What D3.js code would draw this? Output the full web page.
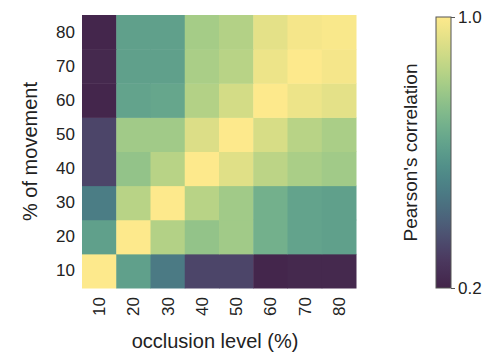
<!DOCTYPE html>
<html>
<head>
<meta charset="utf-8">
<script src="https://cdn.jsdelivr.net/npm/d3@7"></script>
<style>
  html, body { margin: 0; padding: 0; background: #fff; }
  svg { display: block; font-family: "Liberation Sans", Arial, sans-serif; }
</style>
</head>
<body>
<svg id="chart" width="484" height="357"></svg>
<script>
// Occlusion levels (columns) and movement percentages (rows)
const occlusion = ["10", "20", "30", "40", "50", "60", "70", "80"];
const movement  = ["10", "20", "30", "40", "50", "60", "70", "80"];

// Pearson's correlation, one row per movement level (10 → 80)
const corrM10 = [1.00, 0.62, 0.48, 0.32, 0.32, 0.21, 0.22, 0.22];
const corrM20 = [0.62, 1.00, 0.83, 0.76, 0.79, 0.68, 0.63, 0.62];
const corrM30 = [0.49, 0.84, 1.00, 0.84, 0.79, 0.68, 0.63, 0.62];
const corrM40 = [0.32, 0.76, 0.84, 1.00, 0.93, 0.85, 0.81, 0.79];
const corrM50 = [0.32, 0.79, 0.79, 0.92, 1.00, 0.91, 0.84, 0.81];
const corrM60 = [0.21, 0.63, 0.64, 0.83, 0.90, 1.00, 0.96, 0.94];
const corrM70 = [0.22, 0.62, 0.62, 0.81, 0.84, 0.96, 1.00, 0.98];
const corrM80 = [0.21, 0.62, 0.62, 0.80, 0.83, 0.94, 0.98, 0.99];
const corrRows = [corrM10, corrM20, corrM30, corrM40, corrM50, corrM60, corrM70, corrM80];

const colorDomain = [0.2, 1.0];
const colorTicks = [0.2, 1.0];

// Soft viridis-like ramp
const ramp = d3.interpolateRgbBasis([
  "rgb(67,36,73)", "rgb(78,60,100)", "rgb(76,98,124)", "rgb(72,128,134)",
  "rgb(88,155,140)", "rgb(120,182,140)", "rgb(165,205,135)",
  "rgb(212,220,132)", "rgb(253,233,140)"
]);
const color = d3.scaleSequential(ramp).domain(colorDomain);

const svg = d3.select("#chart");
const plot = { left: 82, top: 15, right: 356, bottom: 288 };

const x = d3.scaleBand().domain(occlusion).range([plot.left, plot.right]);
const y = d3.scaleBand().domain(movement).range([plot.bottom, plot.top]);

const cells = [];
corrRows.forEach((row, i) => row.forEach((v, j) => cells.push({ m: movement[i], o: occlusion[j], v })));

svg.append("g").selectAll("rect").data(cells).join("rect")
  .attr("x", d => x(d.o))
  .attr("y", d => y(d.m))
  .attr("width", x.bandwidth() + 0.5)
  .attr("height", y.bandwidth() + 0.5)
  .attr("fill", d => color(d.v));

// Axes (tick labels only)
const xAxis = svg.append("g")
  .attr("transform", `translate(0,${plot.bottom})`)
  .call(d3.axisBottom(x).tickSize(0).tickPadding(0));
xAxis.select(".domain").remove();
xAxis.selectAll("text")
  .attr("transform", "rotate(-90)")
  .attr("x", -9).attr("y", 0).attr("dy", "0.35em")
  .style("text-anchor", "end")
  .attr("font-size", 17).attr("fill", "#222");

const yAxis = svg.append("g")
  .attr("transform", `translate(${plot.left},0)`)
  .call(d3.axisLeft(y).tickSize(0).tickPadding(7));
yAxis.select(".domain").remove();
yAxis.selectAll("text").attr("font-size", 17).attr("fill", "#222");

svg.append("text")
  .attr("x", (plot.left + plot.right) / 2 - 4).attr("y", 348)
  .attr("text-anchor", "middle").attr("font-size", 20).attr("fill", "#222")
  .text("occlusion level (%)");

svg.append("text")
  .attr("transform", `translate(37,${(plot.top + plot.bottom) / 2}) rotate(-90)`)
  .attr("text-anchor", "middle").attr("font-size", 20).attr("fill", "#222")
  .text("% of movement");

// Colour bar
const cb = { x: 436, w: 15, top: 17, bottom: 288 };
const cbScale = d3.scaleLinear().domain(colorDomain).range([cb.bottom, cb.top]);
const defs = svg.append("defs");
const grad = defs.append("linearGradient").attr("id", "cbgrad")
  .attr("x1", 0).attr("y1", 1).attr("x2", 0).attr("y2", 0);
d3.range(0, 1.0001, 0.05).forEach(t => {
  grad.append("stop").attr("offset", t).attr("stop-color", ramp(t));
});
svg.append("rect")
  .attr("x", cb.x).attr("y", cb.top)
  .attr("width", cb.w).attr("height", cb.bottom - cb.top)
  .attr("fill", "url(#cbgrad)")
  .attr("stroke", "#555").attr("stroke-width", 1);

const cbAxis = svg.append("g")
  .attr("transform", `translate(${cb.x + cb.w},0)`)
  .call(d3.axisRight(cbScale).tickValues(colorTicks).tickFormat(d3.format(".1f")).tickSize(4).tickPadding(3));
cbAxis.select(".domain").remove();
cbAxis.selectAll("line").attr("stroke", "#555");
cbAxis.selectAll("text").attr("font-size", 17).attr("fill", "#222");

svg.append("text")
  .attr("transform", `translate(417,${(cb.top + cb.bottom) / 2}) rotate(-90)`)
  .attr("text-anchor", "middle").attr("font-size", 19).attr("fill", "#222")
  .text("Pearson's correlation");
</script>
</body>
</html>
